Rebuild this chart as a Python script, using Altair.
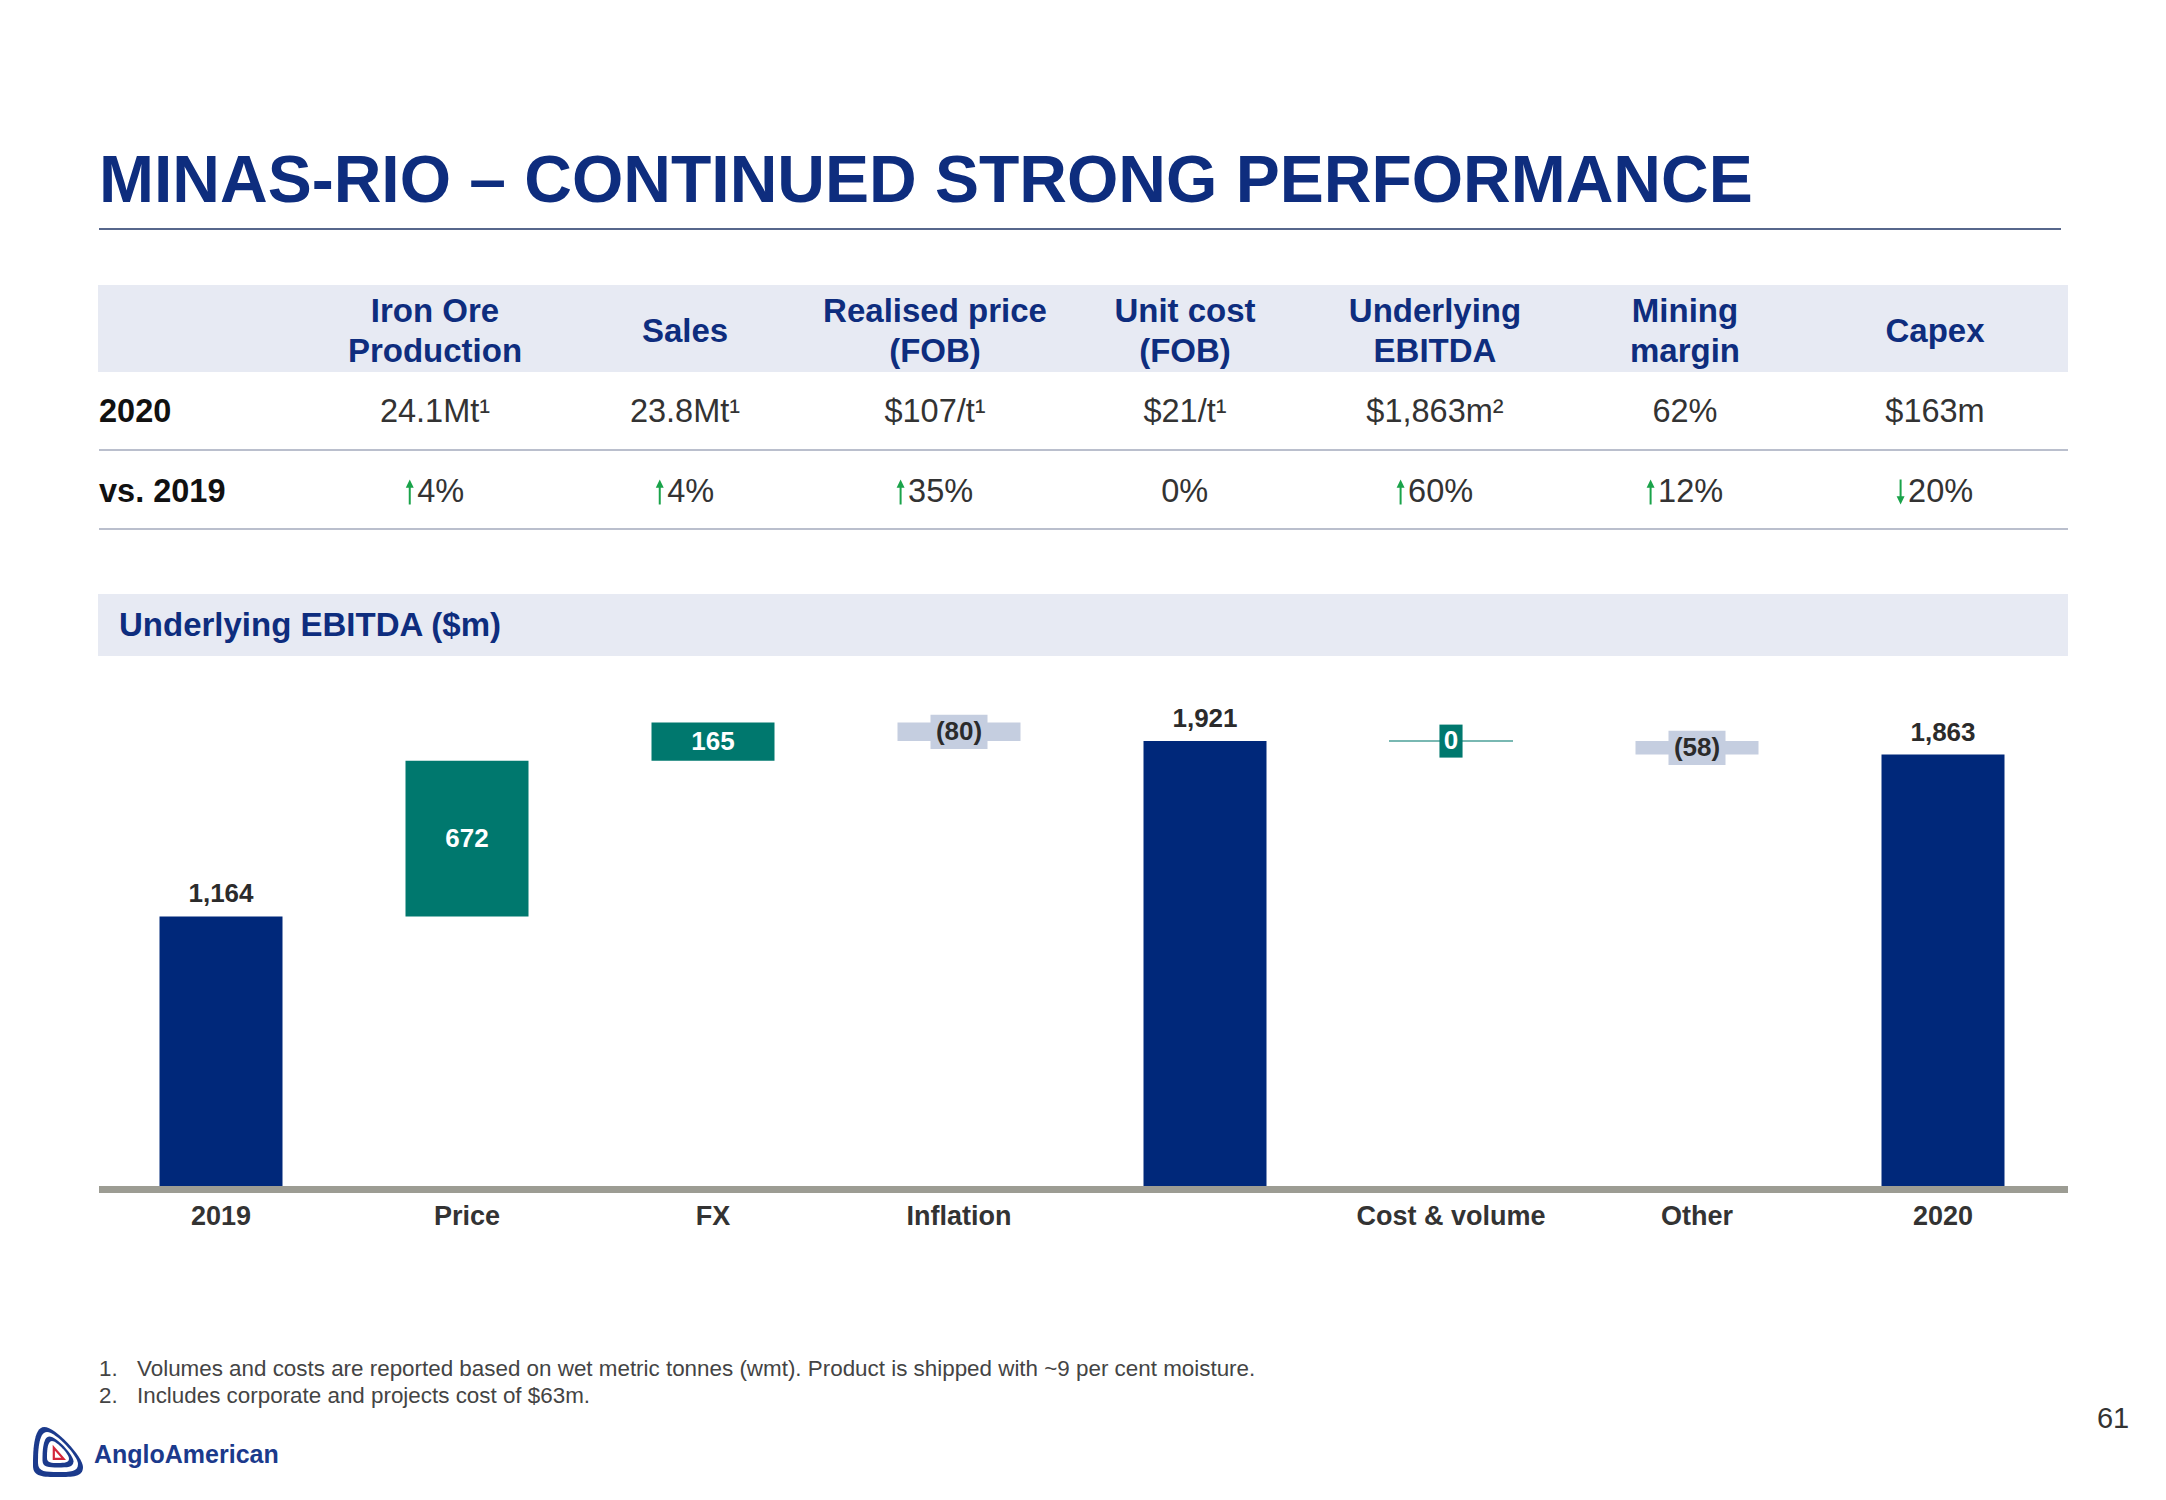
import altair as alt
import pandas as pd

# ---------------- data ----------------
title_text = "MINAS-RIO – CONTINUED STRONG PERFORMANCE"
metrics = ["Iron Ore\nProduction", "Sales", "Realised price\n(FOB)", "Unit cost\n(FOB)",
           "Underlying\nEBITDA", "Mining\nmargin", "Capex"]
values_2020 = ["24.1Mt¹", "23.8Mt¹", "$107/t¹", "$21/t¹", "$1,863m²", "62%", "$163m"]
change_pct = ["4%", "4%", "35%", "0%", "60%", "12%", "20%"]
change_dir = ["up", "up", "up", "flat", "up", "up", "down"]
row_labels = ["2020", "vs. 2019"]

section_title = "Underlying EBITDA ($m)"
wf_categories = ["2019", "Price", "FX", "Inflation", "Subtotal", "Cost & volume", "Other", "2020"]
wf_axis_labels = ["2019", "Price", "FX", "Inflation", "", "Cost & volume", "Other", "2020"]
wf_values = [1164, 672, 165, -80, 1921, 0, -58, 1863]
wf_kind = ["total", "delta", "delta", "delta", "total", "delta", "delta", "total"]
wf_labels = ["1,164", "672", "165", "(80)", "1,921", "0", "(58)", "1,863"]

footnotes = ["Volumes and costs are reported based on wet metric tonnes (wmt). Product is shipped with ~9 per cent moisture.",
             "Includes corporate and projects cost of $63m."]
page_number = "61"
brand = "AngloAmerican"

# ---------------- styles ----------------
FONT = "Liberation Sans, Arial, Helvetica, sans-serif"
NAVY = "#00287A"
TEXT_NAVY = "#0E2D7E"
TEAL = "#00786E"
LIGHT = "#C5CEE0"
BAND = "#E7EAF3"
GREEN = "#1AA34A"
GRID = "#A3AABD"
BASE_GRAY = "#9C9C93"
DARK = "#2B2B2B"
W, H = 2150, 1484
COL_PX = 250
ROW_PX = 80.25
HEAD_LH = 40

# ---------------- derived tables ----------------
def one(**kw):
    d = {"k": [0]}
    d.update({k: [v] for k, v in kw.items()})
    return pd.DataFrame(d)

def est_w(s):
    return (len(s) - 1) * 18.3 + 29.2

tbl = pd.DataFrame({"col": list(range(1, 8)), "metric": metrics, "v2020": values_2020,
                    "chg": change_pct, "dir": change_dir})
tbl["row_h"] = -tbl["metric"].map(lambda s: s.count("\n")) * (HEAD_LH / 2) / ROW_PX
tbl["row_v"] = 1
tbl["row_c"] = 2
grp = tbl["chg"].map(lambda s: 12 + est_w(s))
tbl["arrow_pos"] = tbl["col"] + (-grp / 2 + 4.5) / COL_PX
tbl["text_pos"] = tbl["col"] + (-grp / 2 + 12) / COL_PX
flat = tbl["dir"] == "flat"
tbl.loc[flat, "text_pos"] = tbl.loc[flat, "col"] - tbl.loc[flat, "chg"].map(est_w) / 2 / COL_PX

rows_df = pd.DataFrame({"label": row_labels, "row": [1, 2]})

recs = []
run = 0
for cat, ax, v, k, lab in zip(wf_categories, wf_axis_labels, wf_values, wf_kind, wf_labels):
    if k == "total":
        s, e = 0, v
        run = v
        style = "total"
    else:
        s, e = run, run + v
        run = e
        style = "inc" if v > 0 else ("dec" if v < 0 else "zero")
    recs.append({"cat": cat, "axis": ax, "start": s, "end": e, "mid": (s + e) / 2,
                 "label": lab, "style": style, "base": 0})
wf = pd.DataFrame(recs)

fn = pd.DataFrame({"n": [1, 2], "num": ["1.", "2."], "text": footnotes})

# ---------------- scales ----------------
X_TBL = alt.Scale(domain=[0, 8], range=[177, 2177], nice=False, zero=False)
Y_TBL = alt.Scale(domain=[0, 2], range=[323.5, 323.5 + 2 * ROW_PX], nice=False, zero=False)
X_WF = alt.Scale(domain=wf_categories, range=[90, 2058], paddingInner=0.5, paddingOuter=0.25)
PXU = 0.2316
Y_WF = alt.Scale(domain=[0, 2100], range=[1178, 1178 - 2100 * PXU], nice=False, zero=False)
Y_FN = alt.Scale(domain=[1, 2], range=[1361, 1388], nice=False, zero=False)

xwf = alt.X("cat:N", scale=X_WF, axis=None)

layers = []

# title & rule
layers.append(alt.Chart(one(t=title_text)).mark_text(
    align="left", baseline="middle", font=FONT, fontSize=66, fontWeight="bold", color=TEXT_NAVY
).encode(x=alt.value(91), y=alt.value(174), text="t:N"))
layers.append(alt.Chart(one()).mark_rule(color="#1F3566", strokeWidth=1.5).encode(
    x=alt.value(91), x2=alt.value(2053), y=alt.value(221)))

# table header band
layers.append(alt.Chart(one()).mark_rect(color=BAND).encode(
    x=alt.value(90), x2=alt.value(2060), y=alt.value(277), y2=alt.value(364)))
# row separators
for yy in (442, 521):
    layers.append(alt.Chart(one()).mark_rule(color=GRID, strokeWidth=1.5).encode(
        x=alt.value(91), x2=alt.value(2060), y=alt.value(yy)))

# header text
layers.append(alt.Chart(tbl).mark_text(
    align="center", baseline="middle", font=FONT, fontSize=33, fontWeight="bold",
    color=TEXT_NAVY, lineBreak="\n", lineHeight=HEAD_LH
).encode(x=alt.X("col:Q", scale=X_TBL, axis=None), y=alt.Y("row_h:Q", scale=Y_TBL, axis=None),
         text="metric:N"))
# 2020 values
layers.append(alt.Chart(tbl).mark_text(
    align="center", baseline="middle", font=FONT, fontSize=32.5, color="#333333"
).encode(x=alt.X("col:Q", scale=X_TBL, axis=None), y=alt.Y("row_v:Q", scale=Y_TBL, axis=None),
         text="v2020:N"))
# change values
layers.append(alt.Chart(tbl).mark_text(
    align="left", baseline="middle", font=FONT, fontSize=32.5, color="#333333"
).encode(x=alt.X("text_pos:Q", scale=X_TBL, axis=None), y=alt.Y("row_c:Q", scale=Y_TBL, axis=None),
         text="chg:N"))
UP = "M0,-1 L0.32,-0.35 L0.08,-0.35 L0.08,1 L-0.08,1 L-0.08,-0.35 L-0.32,-0.35 Z"
DOWN = "M0,1 L0.32,0.35 L0.08,0.35 L0.08,-1 L-0.08,-1 L-0.08,0.35 L-0.32,0.35 Z"
for d, shp in (("up", UP), ("down", DOWN)):
    layers.append(alt.Chart(tbl).transform_filter(alt.datum.dir == d).mark_point(
        shape=shp, filled=True, size=620, color=GREEN, opacity=1, strokeWidth=0
    ).encode(x=alt.X("arrow_pos:Q", scale=X_TBL, axis=None),
             y=alt.Y("row_c:Q", scale=Y_TBL, axis=None)))
# row labels
layers.append(alt.Chart(rows_df).mark_text(
    align="left", baseline="middle", font=FONT, fontSize=32.5, fontWeight="bold", color="#111111"
).encode(x=alt.value(91), y=alt.Y("row:Q", scale=Y_TBL, axis=None), text="label:N"))

# section band
layers.append(alt.Chart(one()).mark_rect(color=BAND).encode(
    x=alt.value(90), x2=alt.value(2060), y=alt.value(586), y2=alt.value(648)))
layers.append(alt.Chart(one(t=section_title)).mark_text(
    align="left", baseline="middle", font=FONT, fontSize=33, fontWeight="bold", color=TEXT_NAVY
).encode(x=alt.value(111), y=alt.value(618), text="t:N"))

# waterfall bars
layers.append(alt.Chart(wf).mark_bar().encode(
    x=xwf,
    y=alt.Y("start:Q", scale=Y_WF, axis=None), y2="end:Q",
    color=alt.Color("style:N", scale=alt.Scale(domain=["total", "inc", "dec", "zero"],
                                               range=[NAVY, TEAL, LIGHT, TEAL]), legend=None)))
# zero-step line
layers.append(alt.Chart(wf).transform_filter(alt.datum.style == "zero").mark_tick(
    color=TEAL, thickness=1.5, size=124
).encode(x=xwf, y=alt.Y("end:Q", scale=Y_WF, axis=None)))
# baseline
layers.append(alt.Chart(one(base=0)).mark_rule(color=BASE_GRAY, strokeWidth=7, yOffset=3.5).encode(
    x=alt.value(91), x2=alt.value(2060), y=alt.Y("base:Q", scale=Y_WF, axis=None)))

BOX_W = "M-1,-0.6 L1,-0.6 L1,0.6 L-1,0.6 Z"
BOX_N = "M-0.7,-1 L0.7,-1 L0.7,1 L-0.7,1 Z"
layers.append(alt.Chart(wf).transform_filter(alt.datum.style == "dec").mark_point(
    shape=BOX_W, filled=True, size=57 * 57, color=LIGHT, opacity=1, strokeWidth=0
).encode(x=xwf, y=alt.Y("mid:Q", scale=Y_WF, axis=None)))
layers.append(alt.Chart(wf).transform_filter(alt.datum.style == "zero").mark_point(
    shape=BOX_N, filled=True, size=33 * 33, color=TEAL, opacity=1, strokeWidth=0
).encode(x=xwf, y=alt.Y("mid:Q", scale=Y_WF, axis=None)))

# labels
layers.append(alt.Chart(wf).transform_filter(alt.datum.style == "total").mark_text(
    align="center", baseline="middle", dy=-22, font=FONT, fontSize=26, fontWeight="bold", color=DARK
).encode(x=xwf, y=alt.Y("end:Q", scale=Y_WF, axis=None), text="label:N"))
layers.append(alt.Chart(wf).transform_filter(alt.datum.style == "inc").mark_text(
    align="center", baseline="middle", font=FONT, fontSize=26, fontWeight="bold", color="white"
).encode(x=xwf, y=alt.Y("mid:Q", scale=Y_WF, axis=None), text="label:N"))
layers.append(alt.Chart(wf).transform_filter(alt.datum.style == "zero").mark_text(
    align="center", baseline="middle", font=FONT, fontSize=26, fontWeight="bold", color="white"
).encode(x=xwf, y=alt.Y("mid:Q", scale=Y_WF, axis=None), text="label:N"))
layers.append(alt.Chart(wf).transform_filter(alt.datum.style == "dec").mark_text(
    align="center", baseline="middle", font=FONT, fontSize=26, fontWeight="bold", color=DARK
).encode(x=xwf, y=alt.Y("mid:Q", scale=Y_WF, axis=None), text="label:N"))
# category labels
layers.append(alt.Chart(wf).mark_text(
    align="center", baseline="middle", dy=31, font=FONT, fontSize=27, fontWeight="bold", color="#333333"
).encode(x=xwf, y=alt.Y("base:Q", scale=Y_WF, axis=None), text="axis:N"))

# footnotes
layers.append(alt.Chart(fn).mark_text(
    align="left", baseline="middle", font=FONT, fontSize=22.4, color="#444444"
).encode(x=alt.value(91), y=alt.Y("n:Q", scale=Y_FN, axis=None), text="num:N"))
layers.append(alt.Chart(fn).mark_text(
    align="left", baseline="middle", font=FONT, fontSize=22.4, color="#444444"
).encode(x=alt.value(129), y=alt.Y("n:Q", scale=Y_FN, axis=None), text="text:N"))

# page number
layers.append(alt.Chart(one(t=page_number)).mark_text(
    align="center", baseline="middle", font=FONT, fontSize=29, color="#333333"
).encode(x=alt.value(2105), y=alt.value(1411), text="t:N"))

# logo
TEAR = "M-0.55,-1 C-0.1,-1 1,0.2 1,0.6 C1,1 0.6,1 0,1 C-0.6,1 -1,1 -1,0.55 C-1,0.1 -1,-1 -0.55,-1 Z"
TRI = "M-0.6,-0.9 L0.8,0.7 L-0.6,0.7 Z"
for sz, col in ((50, "#1B3A8C"), (40, "white"), (31, "#1B3A8C"), (22, "white")):
    layers.append(alt.Chart(one()).mark_point(
        shape=TEAR, filled=True, size=sz * sz, color=col, opacity=1, strokeWidth=0
    ).encode(x=alt.value(50), y=alt.value(1444)))
layers.append(alt.Chart(one()).mark_point(
    shape=TRI, filled=False, size=14 * 14, color="#D3263A", opacity=1, strokeWidth=2.2
).encode(x=alt.value(50), y=alt.value(1446)))
layers.append(alt.Chart(one(t=brand)).mark_text(
    align="left", baseline="middle", font=FONT, fontSize=25, fontWeight="bold", color="#1B3A8C"
).encode(x=alt.value(86), y=alt.value(1447), text="t:N"))

chart = alt.layer(*layers).resolve_scale(
    x="independent", y="independent", color="independent"
).properties(
    width=W, height=H, autosize=alt.AutoSizeParams(type="none"), padding=0, background="white"
).configure_view(stroke=None)

chart.save("out.html", embed_options={"renderer": "svg", "actions": False})
